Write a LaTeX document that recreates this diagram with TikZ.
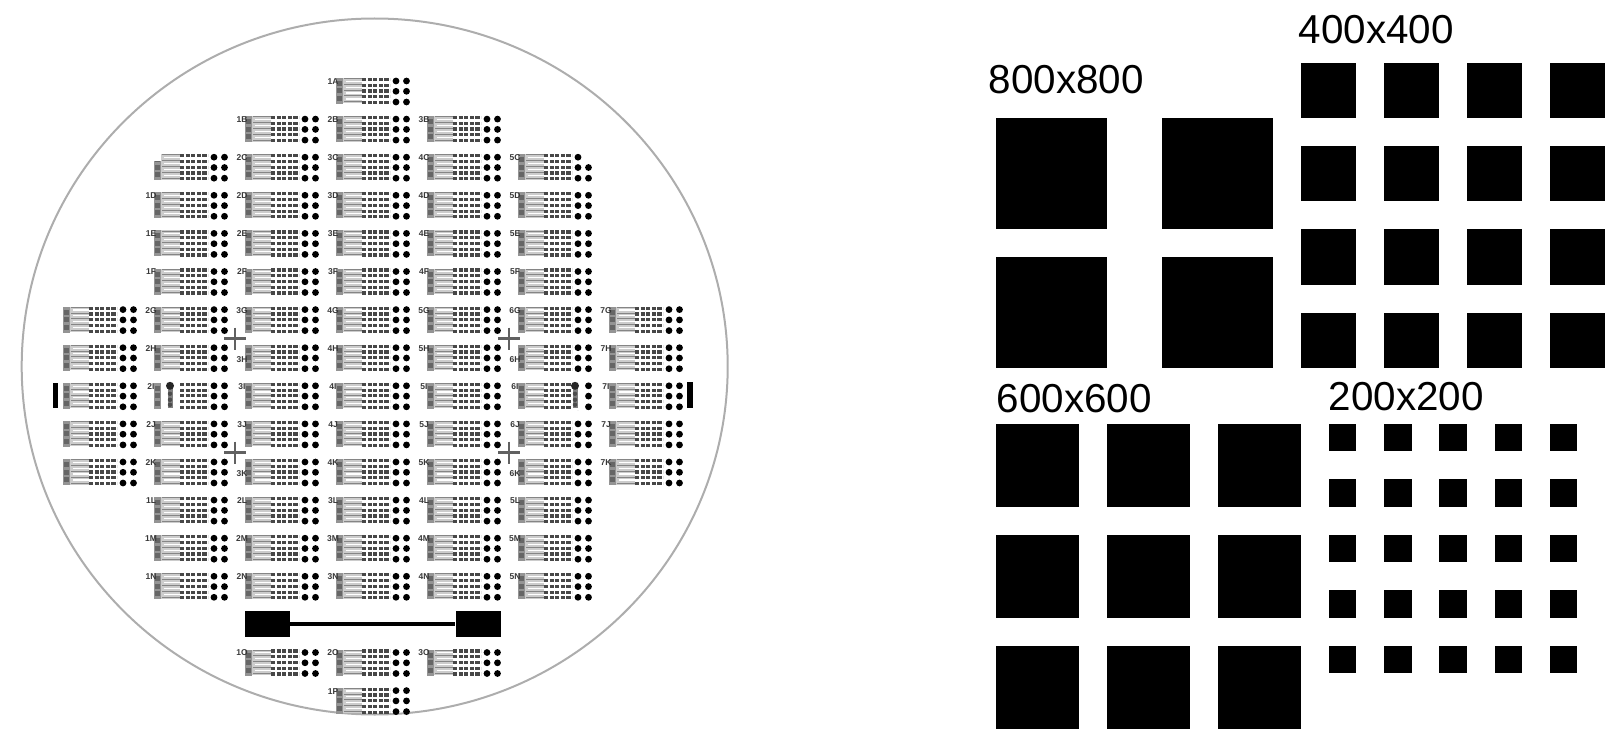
\documentclass[tikz,border=0pt]{standalone}
\usepackage{fontspec}
\setmainfont{Liberation Sans}
\usetikzlibrary{positioning}

% one test die of the wafer, #1 and #2 give its top left corner
\newcommand{\chipdie}[2]{
  \begin{scope}[shift={(#1,#2)}]
    \fill [black!20] (7,0) rectangle (26,25.5);
    \foreach \ly in {0.6,6.4,12.2,18,24} \draw [black!48,line width=1] (8,\ly) -- (26,\ly);
    \foreach \ly in {3.4,9.2,15,21} \draw [white,line width=1.1] (10,\ly) -- (26,\ly);
    \fill [black!42] (0,0) rectangle (7,26);
    \foreach \py in {3,10.5,18} \fill [black!60] (1,\py) rectangle (6,\py+5);
    \foreach \dy in {1.5,7.3,13,18.8,24.5} \draw [diedash] (26,\dy) -- (54,\dy);
    \foreach \dy in {3,13.3,24} {
      \fill (60,\dy) circle (3.4);
      \fill (70.5,\dy) circle (3.4);
    }
  \end{scope}
}
% dark pad stack on the two odd dies of the middle row
\newcommand{\padstack}[2]{
  \fill [black!50] (#1-2.5,#2+4) rectangle (#1+2.5,#2+25);
  \fill [black!85] (#1,#2+3) circle (4);
  \foreach \py in {11,17,22} \fill [black!70] (#1,#2+\py) circle (2.2);
}

\begin{document}
\begin{tikzpicture}[x=1pt,y=-1pt]
  \tikzstyle{diedash}=[black!72,line width=3.2,dash pattern=on 4.2pt off 1.4pt]
  \tikzstyle{dielabel}=[inner sep=0pt,font=\fontsize{8.5}{9}\selectfont\bfseries,text=black!78]
  \tikzstyle{wafer}=[draw=black!32,line width=2]
  \tikzstyle{cross}=[black!62,line width=2.4]
  \tikzstyle{barpad}=[fill=black,inner sep=0pt,minimum width=45,minimum height=26]
  \tikzstyle{sq}=[fill=black,inner sep=0pt,anchor=north west]
  \tikzstyle{size}=[inner sep=0pt,anchor=base west,font=\fontsize{40.4}{48}\selectfont]

  \useasboundingbox (0,0) rectangle (1623,749);

  % wafer
  \draw [wafer] (374.7,366.5) ellipse [x radius=353pt,y radius=348pt];

  % row, letter, first and last column, label offset, column without label
  \foreach \rowno/\letter/\first/\last/\offs/\nolab in {
      0/A/3/3/-2/9, 1/B/2/4/-1/9, 2/C/1/5/0/1, 3/D/1/5/0/9, 4/E/1/5/0/9,
      5/F/1/5/0/9, 6/G/0/6/1/0, 7/H/0/6/1/0, 8/I/0/6/1/0, 9/J/0/6/1/0,
      10/K/0/6/1/0, 11/L/1/5/0/9, 12/M/1/5/0/9, 13/N/1/5/0/9,
      15/O/2/4/-1/9, 16/P/3/3/-2/9} {
    \foreach \col in {\first,...,\last} {
      \pgfmathsetmacro{\xx}{63+91*\col}
      \pgfmathsetmacro{\yy}{78+38.1*\rowno}
      \chipdie{\xx}{\yy}
      \pgfmathtruncatemacro{\num}{\col+\offs}
      \pgfmathsetmacro{\laby}{\yy+3.5+((\rowno==7||\rowno==10)&&(\col==2||\col==5))*11}
      \ifnum\col=\nolab\else
        \node (lab\col-\rowno) [dielabel] at (\xx-3,\laby) {\num\letter};
      \fi
    }
  }

  % odd dies
  \fill [white] (154,153) rectangle (161,161);
  \fill [white] (585,153) rectangle (595,162);
  \fill [white] (161,381) rectangle (180,410);
  \padstack{170}{382.8}
  \fill [white] (571,381) rectangle (582,410);
  \padstack{575}{382.8}
  \fill (52.7,383) rectangle (58.3,408);
  \fill (686.7,382) rectangle (692.5,408);

  % alignment crosses
  \foreach \cx/\cy in {235/338.5,509/338.5,235/452.5,509/452.5} {
    \draw [cross] (\cx-11,\cy) -- (\cx+11,\cy);
    \draw [cross] (\cx,\cy-11) -- (\cx,\cy+11);
  }

  % long resistor
  \node (barl) at (267,624) [barpad] {};
  \node (barr) at (478,624) [barpad] {};
  \draw [line width=4] (barl) -- (barr);

  % square pads
  \foreach \i in {0,1} \foreach \j in {0,1}
    \node (big\i\j) at (996+166.2*\i,118+139*\j) [sq,minimum size=111] {};
  \foreach \i in {0,...,3} \foreach \j in {0,...,3}
    \node (mid\i\j) at (1300.5+83*\i,62.5+83.3*\j) [sq,minimum size=55.3] {};
  \foreach \i in {0,1,2} \foreach \j in {0,1,2}
    \node (lrg\i\j) at (996+110.7*\i,423.5+111*\j) [sq,minimum size=83] {};
  \foreach \i in {0,...,4} \foreach \j in {0,...,4}
    \node (sml\i\j) at (1328.5+55.3*\i,423.5+55.5*\j) [sq,minimum size=27.5] {};

  \node (t400) at (1298.5,43.5) [size] {400x400};
  \node (t800) at (988.5,93.5) [size] {800x800};
  \node (t600) at (996.5,412.5) [size] {600x600};
  \node (t200) at (1328.5,410.5) [size] {200x200};
\end{tikzpicture}
\end{document}
